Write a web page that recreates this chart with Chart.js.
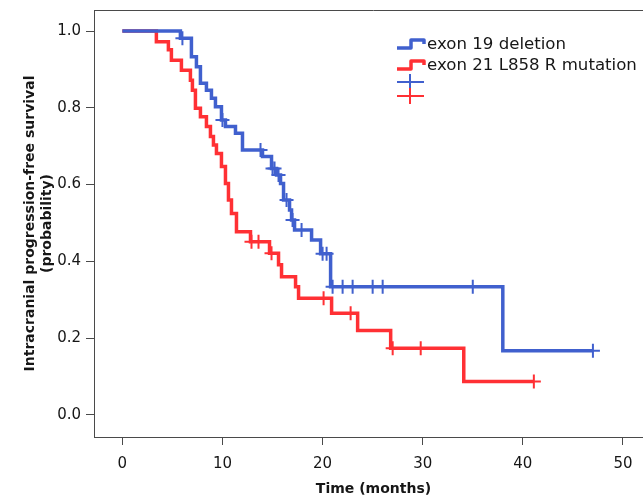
<!DOCTYPE html>
<html>
<head>
<meta charset="utf-8">
<script src="https://cdn.jsdelivr.net/npm/chart.js@4/dist/chart.umd.min.js"></script>
<style>
html,body{margin:0;padding:0;background:#fff;overflow:hidden;}
#wrap{width:643px;height:496px;overflow:hidden;}
</style>
</head>
<body>
<div id="wrap"><canvas id="c" width="653" height="496" style="width:653px;height:496px"></canvas></div>
<script>
// ---- data ----
const seriesNames = ['exon 19 deletion', 'exon 21 L858 R mutation'];
const ex19Times = [0, 5.8, 6.9, 7.4, 7.8, 8.4, 8.9, 9.3, 9.9, 10.3, 11.3, 12.0, 14.0, 14.9, 15.4, 15.8, 16.1, 16.7, 16.9, 17.2, 18.9, 19.8, 20.8, 38.0];
const ex19Surv  = [1.0, 0.981, 0.933, 0.907, 0.864, 0.846, 0.825, 0.803, 0.768, 0.751, 0.734, 0.690, 0.673, 0.642, 0.625, 0.603, 0.560, 0.534, 0.508, 0.482, 0.456, 0.420, 0.334, 0.167];
const ex19Censor = [6.0, 10.0, 13.8, 15.0, 15.2, 15.6, 16.4, 17.0, 17.9, 20.0, 20.4, 21.0, 22.0, 23.0, 25.0, 26.0, 35.0, 47.0];
const ex19End = 47.0;
const ex21Times = [0, 3.4, 4.6, 4.9, 5.9, 6.8, 7.0, 7.3, 7.8, 8.4, 8.8, 9.1, 9.4, 9.9, 10.3, 10.6, 10.9, 11.4, 12.8, 14.7, 15.6, 15.9, 17.3, 17.6, 20.9, 23.5, 26.8, 34.1];
const ex21Surv  = [1.0, 0.972, 0.951, 0.924, 0.898, 0.872, 0.846, 0.799, 0.777, 0.751, 0.725, 0.703, 0.681, 0.647, 0.603, 0.560, 0.525, 0.477, 0.451, 0.421, 0.391, 0.360, 0.334, 0.304, 0.265, 0.220, 0.174, 0.087];
const ex21Censor = [12.9, 13.6, 14.9, 20.1, 22.8, 27.0, 29.8, 41.1];
const ex21End = 41.1;
const xTicks = [0, 10, 20, 30, 40, 50];
const yTicks = [0, 0.2, 0.4, 0.6, 0.8, 1.0];

const BLUE = 'rgb(64,96,206)';
const RED = 'rgb(255,48,52)';
const TEXT = '#161616';
const AXIS = '#4a4a4a';

function stepPoints(times, surv, end) {
  const pts = times.map((t, i) => ({x: t, y: surv[i]}));
  pts.push({x: end, y: surv[surv.length - 1]});
  return pts;
}
function survAt(times, surv, t) {
  let v = surv[0];
  for (let i = 0; i < times.length; i++) { if (times[i] <= t) v = surv[i]; }
  return v;
}
function censorPoints(times, surv, cens) {
  return cens.map(t => ({x: t, y: survAt(times, surv, t)}));
}

const frame = {
  id: 'frame',
  afterDraw(chart) {
    const {ctx, chartArea} = chart;
    ctx.save();
    ctx.strokeStyle = AXIS;
    ctx.lineWidth = 1;
    ctx.beginPath();
    ctx.moveTo(chartArea.left, chartArea.top + 0.5);
    ctx.lineTo(chartArea.right, chartArea.top + 0.5);
    ctx.stroke();
    ctx.restore();
  }
};

const legendPlugin = {
  id: 'kmLegend',
  afterDraw(chart) {
    const ctx = chart.ctx;
    ctx.save();
    const colors = [BLUE, RED];
    const rows = [45, 66];
    ctx.lineWidth = 3.5;
    ctx.lineJoin = 'round';
    rows.forEach((y, i) => {
      ctx.strokeStyle = colors[i];
      ctx.beginPath();
      ctx.moveTo(397, y + 3);
      ctx.lineTo(411, y + 3);
      ctx.lineTo(411, y - 5);
      ctx.lineTo(424, y - 5);
      ctx.lineTo(424, y - 1);
      ctx.stroke();
    });
    ctx.fillStyle = TEXT;
    ctx.textBaseline = 'middle';
    ctx.textAlign = 'left';
    ctx.font = '15px "DejaVu Sans"';
    const w = ctx.measureText(seriesNames[1]).width;
    const size = 15 * 210 / w;
    ctx.font = size.toFixed(2) + 'px "DejaVu Sans"';
    rows.forEach((y, i) => ctx.fillText(seriesNames[i], 427, y));
    ctx.lineWidth = 2;
    [82, 96].forEach((y, i) => {
      ctx.strokeStyle = colors[i];
      ctx.beginPath();
      ctx.moveTo(397, y); ctx.lineTo(424, y);
      ctx.moveTo(410, y - 8); ctx.lineTo(410, y + 8);
      ctx.stroke();
    });
    ctx.restore();
  }
};

new Chart(document.getElementById('c'), {
  type: 'line',
  data: {
    datasets: [
      {label: seriesNames[0], data: stepPoints(ex19Times, ex19Surv, ex19End), stepped: 'before',
       borderColor: BLUE, borderWidth: 3.5, pointRadius: 0, fill: false},
      {label: seriesNames[1], data: stepPoints(ex21Times, ex21Surv, ex21End), stepped: 'before',
       borderColor: RED, borderWidth: 3.5, pointRadius: 0, fill: false},
      {label: 'c19', data: censorPoints(ex19Times, ex19Surv, ex19Censor), showLine: false,
       pointStyle: 'cross', pointRadius: 7, pointBorderWidth: 2, borderColor: BLUE, backgroundColor: BLUE},
      {label: 'c21', data: censorPoints(ex21Times, ex21Surv, ex21Censor), showLine: false,
       pointStyle: 'cross', pointRadius: 7, pointBorderWidth: 2, borderColor: RED, backgroundColor: RED}
    ]
  },
  options: {
    responsive: false,
    animation: false,
    layout: {autoPadding: false, padding: {top: 10, left: 0, right: 0, bottom: 0}},
    plugins: {legend: {display: false}, tooltip: {enabled: false}},
    scales: {
      x: {
        type: 'linear', min: -2.83, max: 53.0,
        afterBuildTicks: s => { s.ticks = xTicks.map(v => ({value: v})); },
        afterFit: s => { s.height = 59; s.paddingLeft = 0; s.paddingRight = 0; },
        grid: {drawOnChartArea: false, drawTicks: true, tickLength: 8, color: AXIS, lineWidth: 1},
        border: {display: true, color: AXIS, width: 1},
        ticks: {color: TEXT, font: {family: 'DejaVu Sans', size: 15}, padding: 10, maxRotation: 0},
        title: {display: true, text: 'Time (months)', color: TEXT,
                font: {family: 'DejaVu Sans', size: 14, weight: 'bold'}, padding: {top: 0, bottom: -2}}
      },
      y: {
        type: 'linear', min: -0.0573, max: 1.0547,
        afterBuildTicks: s => { s.ticks = yTicks.map(v => ({value: v})); },
        afterFit: s => { s.width = 94; s.paddingTop = 0; s.paddingBottom = 0; },
        grid: {drawOnChartArea: false, drawTicks: true, tickLength: 8, color: AXIS, lineWidth: 1},
        border: {display: true, color: AXIS, width: 1},
        ticks: {color: TEXT, font: {family: 'DejaVu Sans', size: 15}, padding: 5,
                callback: v => Number(v).toFixed(1)},
        title: {display: true, text: ['Intracranial progression-free survival', '(probability)'], color: TEXT,
                font: {family: 'DejaVu Sans', size: 14, weight: 'bold'}, padding: {top: 22, bottom: 0}}
      }
    }
  },
  plugins: [frame, legendPlugin]
});
</script>
</body>
</html>
